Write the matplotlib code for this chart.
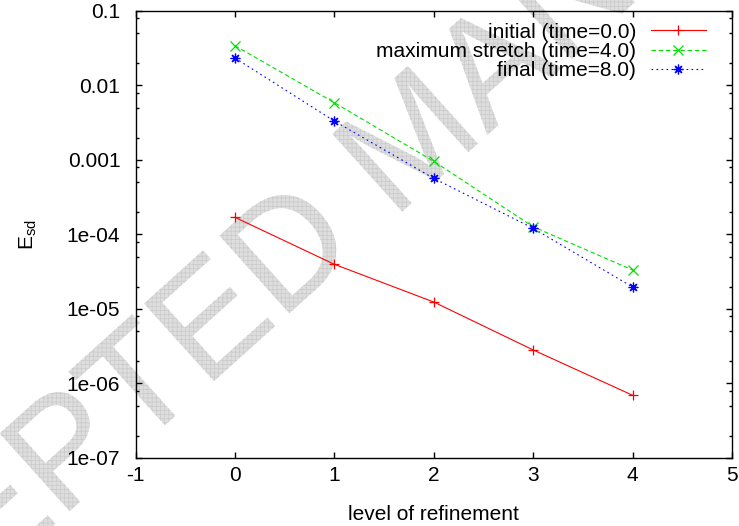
import matplotlib
matplotlib.use("Agg")
import matplotlib.pyplot as plt
from matplotlib.ticker import FixedLocator, FixedFormatter, LogLocator, NullFormatter
from matplotlib.textpath import TextPath
from matplotlib.patches import PathPatch
from matplotlib.font_manager import FontProperties
from matplotlib.transforms import Affine2D

# refinement levels and error values
levels = [0, 1, 2, 3, 4]
err_initial = [1.70e-4, 3.98e-5, 1.24e-5, 2.82e-6, 6.95e-7]
err_stretch = [3.42e-2, 5.88e-3, 9.6e-4, 1.27e-4, 3.33e-5]
err_final = [2.34e-2, 3.33e-3, 5.67e-4, 1.21e-4, 1.97e-5]

labels = ["initial (time=0.0)", "maximum stretch (time=4.0)", "final (time=8.0)"]

xticks = [-1, 0, 1, 2, 3, 4, 5]
yticks = [1e-7, 1e-6, 1e-5, 1e-4, 1e-3, 1e-2, 1e-1]
ytick_labels = ["1e-07", "1e-06", "1e-05", "1e-04", "0.001", "0.01", "0.1"]

plt.rcParams.update({
    "font.family": "Liberation Sans",
    "mathtext.default": "regular",
    "axes.unicode_minus": False,
    "hatch.linewidth": 0.5,
})

fig = plt.figure(figsize=(7.39, 5.26), dpi=100)
ax = fig.add_axes([0.1834, 0.1293, 0.8071, 0.8498])
ax.set_facecolor("none")

# watermark across the page
tp = TextPath((0, 0), "ACCEPTED MANUSCRIPT", size=152,
              prop=FontProperties(family="Liberation Sans"))
ext = tp.get_extents()
cx, cy = (ext.x0 + ext.x1) / 2, (ext.y0 + ext.y1) / 2
tr = Affine2D().translate(-cx, -cy).rotate_deg(42).translate(407, 526 - 137)
wm = PathPatch(tr.transform_path(tp), transform=None, facecolor="#dedede",
               edgecolor="#cacaca", hatch="++++", lw=0, zorder=0.5, clip_on=False)
ax.add_artist(wm)

ax.plot(levels, err_initial, color="#ff0000", lw=0.8, marker="+", ms=7.5,
        mew=0.9, label=labels[0])
ax.plot(levels, err_stretch, color="#00e000", lw=0.8, linestyle=(0, (4, 2.5)),
        marker="x", ms=6.5, mew=0.9, label=labels[1])
ax.plot(levels, err_final, color="#0000ff", lw=0.8, linestyle=(0, (1.5, 3)),
        marker=(8, 2, 0), ms=7, mew=0.9, label=labels[2])

ax.set_yscale("log")
ax.set_xlim(-1, 5)
ax.set_ylim(1e-7, 1e-1)

ax.xaxis.set_major_locator(FixedLocator(xticks))
ax.yaxis.set_major_locator(FixedLocator(yticks))
ax.yaxis.set_major_formatter(FixedFormatter(ytick_labels))
ax.yaxis.set_minor_locator(LogLocator(base=10, subs=(2, 5, 8)))
ax.yaxis.set_minor_formatter(NullFormatter())

ax.tick_params(which="both", direction="in", top=True, right=True, labelsize=15, width=1.0)
ax.tick_params(axis="x", which="major", length=4.3, pad=6)
ax.tick_params(axis="y", which="major", length=4.3, pad=11)
ax.tick_params(axis="y", which="minor", length=2.2)
for s in ax.spines.values():
    s.set_linewidth(1.0)

ax.set_xlabel("level of refinement", fontsize=15, labelpad=14)
ax.set_ylabel("E$_{sd}$", fontsize=15, labelpad=20)

ax.legend(loc="upper right", bbox_to_anchor=(0.956, 0.974), frameon=False,
          markerfirst=False, fontsize=15, handlelength=2.65, handletextpad=0.7,
          labelspacing=0.02, borderpad=0, borderaxespad=0)

fig.savefig("out.png", dpi=100)
